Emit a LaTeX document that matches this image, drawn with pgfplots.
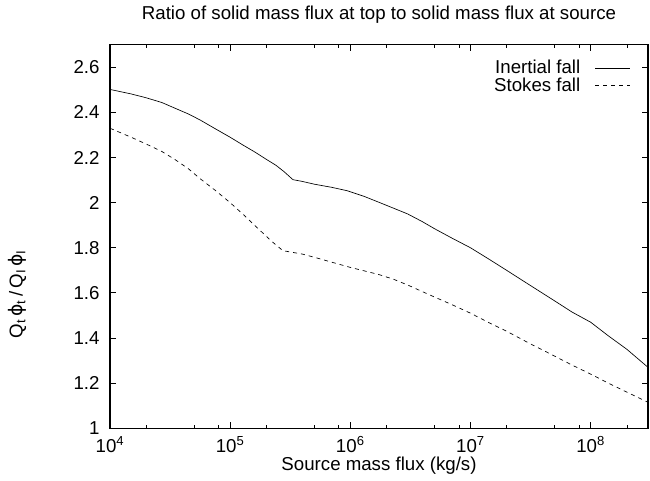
\documentclass[border=0pt]{standalone}
\usepackage{pgfplots}
\pgfplotsset{compat=1.18}
\usepackage{fontspec}
\setmainfont{Liberation Sans}
\newfontfamily\dejavu{DejaVu Sans}
\newcommand{\ph}{{\dejavu ϕ}}
\begin{document}
\fontsize{14}{16}\selectfont
\begin{tikzpicture}
\begin{axis}[
  scale only axis,
  width=403.5pt, height=287.6pt,
  xmode=log, log basis x=10,
  xmin=1e4, xmax=3e8,
  ymin=1, ymax=2.7,
  xtick={1e4,1e5,1e6,1e7,1e8},
  xticklabels={10\textsuperscript{4},10\textsuperscript{5},10\textsuperscript{6},10\textsuperscript{7},10\textsuperscript{8}},
  ytick={1,1.2,1.4,1.6,1.8,2,2.2,2.4,2.6},
  yticklabels={1,1.2,1.4,1.6,1.8,2,2.2,2.4,2.6},
  minor xtick={},
  tick style={draw=none},
  axis line style={line width=0.8pt},
  title={Ratio of solid mass flux at top to solid mass flux at source},
  title style={at={(axis description cs:0.5,1)}, anchor=south, yshift=5pt},
  xlabel={Source mass flux (kg/s)},
  xlabel style={yshift=6pt},
  xticklabel style={yshift=-1pt},
  yticklabel style={xshift=-3pt},
  ylabel={Q\textsubscript{t}\,\ph\textsubscript{t}\,/\,Q\textsubscript{I}\,\ph\textsubscript{I}},
  ylabel style={at={(axis description cs:-0.172,0.35)}, anchor=center},
  legend style={draw=none, fill=none, at={(0.975,0.975)}, anchor=north east, font=\fontsize{14}{16}\selectfont, row sep=-3pt, column sep=9pt},
  legend cell align=right,
  legend plot pos=right,
  legend image code/.code={\draw[#1] (0pt,0pt) -- (26pt,0pt);},
]
\addplot[black, line width=0.5pt] coordinates {
(1e4,2.502) (1.5e4,2.482) (2e4,2.465) (2.7e4,2.444) (3.5e4,2.418) (4.5e4,2.393) (5.6e4,2.367) (7.5e4,2.328) (1e5,2.29) (1.3e5,2.253) (1.6e5,2.225) (2e5,2.192) (2.4e5,2.166) (2.8e5,2.138) (3.33e5,2.102)
(4e5,2.094) (5e5,2.082) (7e5,2.068) (9.4e5,2.053) (1.3e6,2.028) (1.76e6,2.0) (2.3e6,1.975) (3e6,1.95) (4e6,1.915) (5e6,1.885) (7e6,1.843) (1e7,1.80) (1.4e7,1.752) (2e7,1.70) (3e7,1.64) (5e7,1.565) (7e7,1.515)
(1e8,1.47) (1.4e8,1.41) (2e8,1.35) (3e8,1.27)
};
\addlegendentry{Inertial fall}
\addplot[black, line width=0.5pt, dashed] coordinates {
(1e4,2.33) (1.5e4,2.29) (2e4,2.26) (2.7e4,2.227) (3.5e4,2.19) (4.5e4,2.15) (5.6e4,2.107) (7.5e4,2.055) (1e5,2.0) (1.3e5,1.945) (1.67e5,1.89) (2.2e5,1.83) (2.75e5,1.787)
(4e5,1.772) (5.5e5,1.752) (6.8e5,1.738) (1e6,1.713) (1.3e6,1.698) (1.76e6,1.68) (2.3e6,1.66) (3e6,1.635) (4e6,1.605) (5e6,1.582) (7e6,1.548) (1e7,1.51) (1.4e7,1.47) (2e7,1.43) (3e7,1.38)
(5e7,1.32) (7e7,1.28) (1e8,1.24) (1.4e8,1.2) (2e8,1.16) (3e8,1.115)
};
\addlegendentry{Stokes fall}
\pgfplotsinvokeforeach{1e4,1e5,1e6,1e7,1e8}{
  \draw[black, line width=0.6pt] (axis cs:#1,1) -- ++(0pt,4.5pt);
  \draw[black, line width=0.6pt] (axis cs:#1,2.7) -- ++(0pt,-4.5pt);
}
\pgfplotsinvokeforeach{2e4,5e4,8e4,2e5,5e5,8e5,2e6,5e6,8e6,2e7,5e7,8e7,2e8}{
  \draw[black, line width=0.5pt] (axis cs:#1,1) -- ++(0pt,2.5pt);
  \draw[black, line width=0.5pt] (axis cs:#1,2.7) -- ++(0pt,-2.5pt);
}
\pgfplotsinvokeforeach{1.2,1.4,1.6,1.8,2,2.2,2.4,2.6}{
  \draw[black, line width=0.6pt] (axis cs:1e4,#1) -- ++(4.5pt,0pt);
  \draw[black, line width=0.6pt] (axis cs:3e8,#1) -- ++(-4.5pt,0pt);
}
\end{axis}
\path (current axis.south west) ++(-82.5pt,-39pt);
\path (current axis.north east) ++(1.5pt,24.4pt);
\end{tikzpicture}
\end{document}
